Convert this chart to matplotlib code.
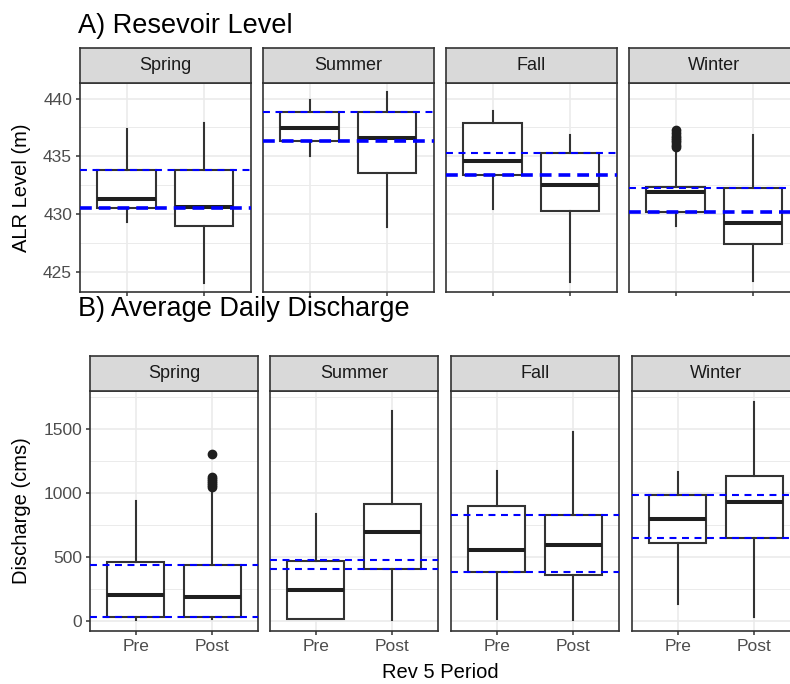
import matplotlib
matplotlib.use("Agg")
import matplotlib.pyplot as plt

plt.rcParams['font.family'] = ['Liberation Sans', 'DejaVu Sans']
plt.rcParams['lines.scale_dashes'] = False

seasons = ["Spring", "Summer", "Fall", "Winter"]
periods = ["Pre", "Post"]

# Reservoir level (m): [whisker low, Q1, median, Q3, whisker high] per season
level_pre = [
    [429.3, 430.55, 431.3, 433.77, 437.4],
    [435.07, 436.32, 437.45, 438.84, 439.9],
    [430.4, 433.39, 434.58, 437.9, 438.96],
    [428.99, 430.14, 431.88, 432.38, 435.65],
]
level_post = [
    [423.97, 428.99, 430.6, 433.77, 437.88],
    [428.9, 433.54, 436.55, 438.84, 440.55],
    [424.12, 430.23, 432.52, 435.25, 436.87],
    [424.2, 427.39, 429.22, 432.29, 436.87],
]
level_pre_outliers = [[], [], [], [435.8, 436.0, 436.2, 436.4, 436.6, 436.8, 437.0, 437.3]]
level_post_outliers = [[], [], [], []]
level_ref_upper = [433.77, 438.84, 435.28, 432.29]
level_ref_lower = [430.52, 436.32, 433.39, 430.14]

# Average daily discharge (cms)
flow_pre = [
    [8, 26, 201, 462, 940],
    [12, 16, 238, 470, 836],
    [10, 381, 557, 896, 1173],
    [128, 606, 794, 985, 1165],
]
flow_post = [
    [10, 31, 183, 436, 1037],
    [5, 405, 698, 915, 1644],
    [5, 355, 593, 828, 1476],
    [26, 648, 933, 1134, 1714],
]
flow_pre_outliers = [[], [], [], []]
flow_post_outliers = [[1050, 1065, 1080, 1095, 1110, 1125, 1306], [], [], []]
flow_ref_upper = [436, 473, 831, 988]
flow_ref_lower = [26, 402, 379, 645]

W, H = 790, 684
fig = plt.figure(figsize=(W / 100, H / 100), dpi=100)

DARK = "#333333"
GRID = "#EBEBEB"


def fx(px):
    return px / W


def fy(py):
    return 1 - py / H


def make_stats(vals, fl):
    lo, q1, med, q3, hi = vals
    return dict(whislo=lo, q1=q1, med=med, q3=q3, whishi=hi, fliers=fl)


def draw_row(lefts, width, top_strip, top_panel, bottom_panel, pre, post,
             pre_out, post_out, upper, lower, ylim, major, minor,
             ylabel, show_xlabels, thick_lower):
    for i, season in enumerate(seasons):
        left = lefts[i]
        ax = fig.add_axes([fx(left), fy(bottom_panel), width / W,
                           (bottom_panel - top_panel) / H])
        stats = [make_stats(pre[i], pre_out[i]), make_stats(post[i], post_out[i])]
        ax.bxp(stats, positions=[1, 2], widths=0.75, showcaps=False,
               patch_artist=True,
               boxprops=dict(facecolor="white", edgecolor=DARK, linewidth=1.5),
               medianprops=dict(color="#1F1F1F", linewidth=2.9),
               whiskerprops=dict(color=DARK, linewidth=1.5),
               flierprops=dict(marker="o", markerfacecolor="#1F1F1F",
                               markeredgecolor="#1F1F1F", markersize=6))
        ax.axhline(upper[i], color="#0000FF", linewidth=1.5,
                   linestyle=(0, (5, 4)), zorder=5)
        if thick_lower:
            ax.axhline(lower[i], color="#0000FF", linewidth=2.6,
                       linestyle=(0, (8.5, 5)), zorder=5)
        else:
            ax.axhline(lower[i], color="#0000FF", linewidth=1.5,
                       linestyle=(0, (5, 4)), zorder=5)
        ax.set_xlim(0.4, 2.6)
        ax.set_ylim(*ylim)
        ax.set_yticks(major)
        ax.set_yticks(minor, minor=True)
        ax.set_xticks([1, 2])
        ax.grid(True, which="major", color=GRID, linewidth=1.2, zorder=0)
        ax.grid(True, which="minor", axis="y", color=GRID, linewidth=0.7, zorder=0)
        ax.set_axisbelow(True)
        for sp in ax.spines.values():
            sp.set_color(DARK)
            sp.set_linewidth(1.2)
        ax.tick_params(which="minor", left=False, length=0)
        ax.tick_params(axis="both", which="major", length=3.2, width=1.1,
                       color=DARK, labelcolor="#4D4D4D", labelsize=12.5, pad=2.5)
        if show_xlabels:
            ax.set_xticklabels(periods)
        else:
            ax.set_xticklabels([])
        if i == 0:
            ax.set_yticklabels([str(v) for v in major])
        else:
            ax.tick_params(axis="y", left=False, labelleft=False)

        sax = fig.add_axes([fx(left), fy(top_panel), width / W,
                            (top_panel - top_strip) / H])
        sax.set_facecolor("#D9D9D9")
        sax.set_xticks([])
        sax.set_yticks([])
        for sp in sax.spines.values():
            sp.set_color(DARK)
            sp.set_linewidth(1.2)
        sax.text(0.5, 0.5, season, ha="center", va="center", fontsize=13,
                 color="#1A1A1A", transform=sax.transAxes)

    fig.text(fx(22), fy((top_panel + bottom_panel) / 2), ylabel, rotation=90,
             ha="center", va="center", fontsize=14.5, color="black")


draw_row([80, 263, 446, 629], 170.5, 48, 83, 292, level_pre, level_post,
         level_pre_outliers, level_post_outliers, level_ref_upper, level_ref_lower,
         (423.23, 441.36), [425, 430, 435, 440], [427.5, 432.5, 437.5],
         "ALR Level (m)", False, True)

draw_row([90, 270, 451, 632], 168, 356, 391, 631, flow_pre, flow_post,
         flow_pre_outliers, flow_post_outliers, flow_ref_upper, flow_ref_lower,
         (-81, 1800), [0, 500, 1000, 1500], [250, 750, 1250, 1750],
         "Discharge (cms)", True, False)

fig.text(fx(78), fy(33), "A) Resevoir Level", ha="left", va="baseline",
         fontsize=19.5, color="black")
fig.text(fx(78), fy(316), "B) Average Daily Discharge", ha="left", va="baseline",
         fontsize=19.5, color="black")
fig.text(fx(440), fy(672), "Rev 5 Period", ha="center", va="center",
         fontsize=14.5, color="black")

fig.savefig("out.png", dpi=100)
